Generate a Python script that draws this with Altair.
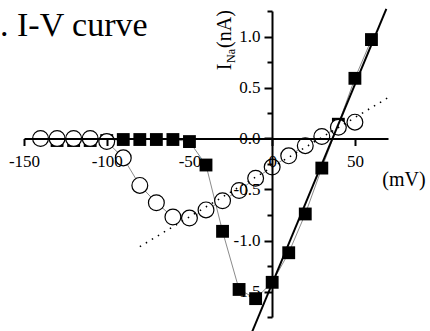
import altair as alt
import pandas as pd

# Peak Na+ current (nA) against test potential (mV), two recording conditions
sq_mv = [-130, -120, -110, -100, -90, -80, -70, -60, -50, -40, -30, -20, -10, 0, 10, 20, 30, 40, 50, 60]
sq_na = [-0.02, -0.02, -0.02, -0.02, -0.01, -0.01, -0.01, -0.01, -0.03, -0.26, -0.91, -1.48, -1.57, -1.41,
         -1.12, -0.74, -0.29, 0.14, 0.59, 0.97]

ci_mv = [-140, -130, -120, -110, -100, -90, -80, -70, -60, -50, -40, -30, -20, -10, 0, 10, 20, 30, 40, 50]
ci_na = [0.0, 0.0, 0.0, 0.0, -0.03, -0.19, -0.46, -0.63, -0.77, -0.78, -0.70, -0.61, -0.51, -0.39, -0.28,
         -0.17, -0.07, 0.02, 0.11, 0.16]

# linear fits of the ascending limbs (end points)
fit_sq_mv = [-12, 69]
fit_sq_na = [-1.89, 1.27]
fit_ci_mv = [-80, 70]
fit_ci_na = [-1.06, 0.40]

x_ticks = [-150, -100, -50, 0, 50]
y_ticks = [-1.75, -1.5, -1.25, -1.0, -0.75, -0.5, -0.25, 0.0, 0.25, 0.5, 0.75, 1.0, 1.25]

sq = pd.DataFrame({"mV": sq_mv, "nA": sq_na})
ci = pd.DataFrame({"mV": ci_mv, "nA": ci_na})
fsq = pd.DataFrame({"mV": fit_sq_mv, "nA": fit_sq_na})
fci = pd.DataFrame({"mV": fit_ci_mv, "nA": fit_ci_na})

SERIF = "Liberation Serif"
W, H = 364, 306
PAD_L, PAD_T = 24, 11

XS = alt.Scale(domain=[-150, 70], nice=False, zero=False)
YS = alt.Scale(domain=[-1.75, 1.25], nice=False, zero=False)

# axes cross at the origin
XAX = alt.Axis(
    values=x_ticks, orient="bottom", offset=-178.5, title=None, grid=False, zindex=1,
    domainColor="black", domainWidth=2, tickColor="black", tickWidth=2, tickSize=7,
    labelFont=SERIF, labelFontSize=17, labelColor="black", labelPadding=8,
    labelOverlap=False, labelFlush=False,
    labelExpr="(datum.value < 0 ? '-' : '') + abs(datum.value)",
)
YAX = alt.Axis(
    values=y_ticks, orient="left", offset=-248, title=None, grid=False, zindex=1,
    domainColor="black", domainWidth=2, tickColor="black", tickWidth=2,
    tickSize={"condition": {"test": "abs(datum.value * 4) % 2 == 1", "value": 5}, "value": 8},
    labelFont=SERIF, labelFontSize=17, labelColor="black", labelPadding=4,
    labelOverlap=False, labelFlush=False,
    labelExpr="abs(datum.value * 4) % 2 == 1 ? '' : (datum.value < 0 ? '-' : '') + format(abs(datum.value), '.1f')",
)


def xy(base):
    return base.encode(
        x=alt.X("mV:Q", scale=XS, axis=XAX),
        y=alt.Y("nA:Q", scale=YS, axis=YAX),
    )


sq_link = xy(alt.Chart(sq).mark_line(color="#8a8a8a", strokeWidth=1))
ci_link = xy(alt.Chart(ci).mark_line(color="#8a8a8a", strokeWidth=1))
sq_pts = xy(alt.Chart(sq).mark_square(size=165, color="black", opacity=1))
ci_pts = xy(alt.Chart(ci).mark_circle(size=250, color="white", opacity=1, stroke="black", strokeWidth=1.2))
sq_fit = xy(alt.Chart(fsq).mark_line(color="black", strokeWidth=2))
ci_fit = xy(alt.Chart(fci).mark_line(color="black", strokeWidth=1.5, strokeDash=[1.5, 5.5]))

one = pd.DataFrame({"k": [0]})


def label(text, px, py, size, angle=0, align="center"):
    return alt.Chart(one).mark_text(
        text=text, font=SERIF, fontSize=size, color="black", angle=angle,
        align=align, baseline="middle",
    ).encode(x=alt.value(px - PAD_L), y=alt.value(py - PAD_T))


title = label(". I-V curve", 0, 26, 34, align="left")
x_unit = label("(mV)", 404, 180, 20)
y_i = label("I", 225, 67, 20, angle=270)
y_sub = label("Na", 231, 56, 12, angle=270)
y_unit = label("(nA)", 225, 29, 20, angle=270)

chart = alt.layer(
    sq_link, ci_link, sq_pts, ci_pts, sq_fit, ci_fit,
    title, x_unit, y_i, y_sub, y_unit,
).properties(
    width=W, height=H,
    autosize=alt.AutoSizeParams(type="none"),
    padding={"left": PAD_L, "top": PAD_T, "right": 430 - PAD_L - W, "bottom": 331 - PAD_T - H},
).configure_view(
    stroke=None
).configure_axis(
    labelFont=SERIF
)

chart.save("out.html", embed_options={"renderer": "svg", "actions": False})
